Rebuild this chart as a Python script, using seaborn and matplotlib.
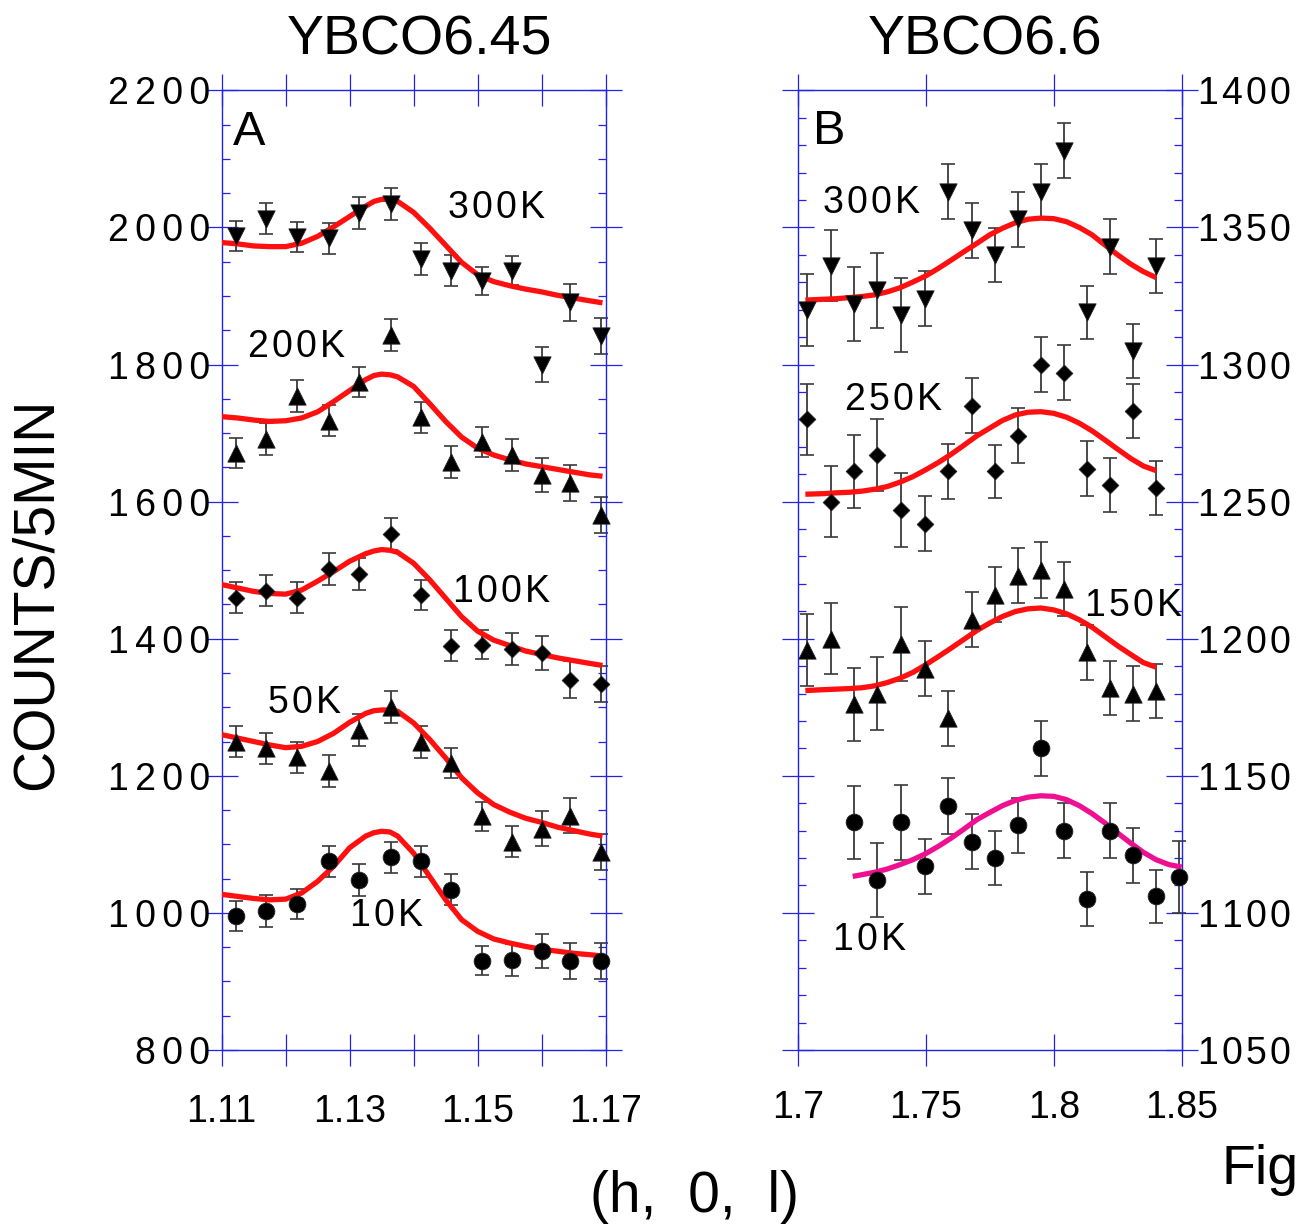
import matplotlib
matplotlib.use("Agg")
import matplotlib.pyplot as plt
from matplotlib.ticker import MultipleLocator, FixedLocator, FuncFormatter
import seaborn as sns

# ---------------- Panel A : YBCO6.45 ----------------
hA = [1.1122, 1.1170, 1.1218, 1.1267, 1.1315, 1.1364, 1.1411, 1.1459, 1.1506, 1.1553, 1.1600, 1.1645, 1.1693]
a300 = [1987, 2013, 1986, 1984, 2021, 2034, 1954, 1937, 1922, 1937, 1800, 1891, 1842]
a300_err = [22, 23, 22, 23, 23, 23, 23, 23, 21, 21, 25, 27, 26]
a200 = [1671, 1691, 1754, 1718, 1775, 1843, 1723, 1658, 1687, 1668, 1639, 1627, 1580]
a200_err = [22, 23, 23, 23, 22, 23, 23, 23, 22, 23, 25, 26, 26]
a100 = [1460, 1470, 1460, 1502, 1494, 1553, 1464, 1390, 1391, 1385, 1379, 1340, 1334]
a100_err = [23, 23, 23, 23, 23, 23, 22, 23, 21, 23, 25, 27, 26]
a50 = [1250, 1240, 1227, 1207, 1267, 1300, 1249, 1219, 1141, 1104, 1123, 1142, 1089]
a50_err = [23, 23, 23, 23, 23, 23, 23, 22, 21, 23, 25, 26, 26]
a10 = [996, 1003, 1013, 1075, 1048, 1081, 1075, 1034, 930, 931, 944, 930, 930]
a10_err = [22, 23, 22, 23, 23, 23, 23, 23, 21, 23, 25, 26, 26]

# fit curves
hA_fit = [1.1100, 1.1125, 1.1150, 1.1175, 1.1200, 1.1225, 1.1250, 1.1275, 1.1300, 1.1325,
          1.1338, 1.1350, 1.1363, 1.1375, 1.1400, 1.1425, 1.1450, 1.1475, 1.1500, 1.1525, 1.1550, 1.1575,
          1.1600, 1.1625, 1.1650, 1.1675, 1.1695]
a300_fit = [1978, 1976, 1973, 1972, 1972, 1977, 1987, 2001, 2016, 2031, 2038, 2041, 2041, 2038, 2022, 1999, 1974,
            1949, 1931, 1921, 1915, 1910, 1906, 1901, 1897, 1893, 1890]
a200_fit = [1724, 1722, 1719, 1717, 1718, 1722, 1731, 1746, 1762, 1778, 1784, 1786, 1785, 1782, 1768, 1743, 1717,
            1694, 1678, 1668, 1661, 1655, 1651, 1647, 1643, 1639, 1637]
a100_fit = [1479, 1474, 1469, 1466, 1465, 1471, 1484, 1498, 1513, 1524, 1528, 1530, 1529, 1526, 1510, 1486, 1459,
            1432, 1411, 1398, 1390, 1382, 1377, 1372, 1368, 1364, 1361]
a50_fit = [1260, 1255, 1250, 1245, 1241, 1243, 1250, 1262, 1278, 1291, 1295, 1296, 1296, 1294, 1277, 1253, 1226,
           1197, 1175, 1158, 1147, 1138, 1132, 1125, 1120, 1115, 1112]
a10_fit = [1027, 1024, 1021, 1019, 1020, 1029, 1046, 1068, 1095, 1112, 1117, 1119, 1118, 1112, 1087, 1053, 1019,
           990, 973, 962, 956, 951, 947, 944, 941, 939, 937]

# ---------------- Panel B : YBCO6.6 ----------------
hB = [1.7035, 1.7129, 1.7220, 1.7311, 1.7404, 1.7496, 1.7587, 1.7680, 1.7770, 1.7859,
      1.7950, 1.8039, 1.8131, 1.8221, 1.8310, 1.8400, 1.8490]
b300 = [1320, 1336, 1322, 1327, 1318, 1324, 1363, 1349, 1340, 1353, 1363, 1378, 1319, 1343, 1305, 1336]
b300_err = [13.1, 12.9, 13.5, 13.5, 13.5, 10.0, 10.0, 10.0, 9.8, 10.0, 10.0, 10.0, 9.8, 9.9, 9.8, 9.8]
b250 = [1280, 1250, 1261, 1267, 1247, 1242, 1261, 1285, 1261, 1274, 1300, 1297, 1262, 1256, 1283, 1255]
b250_err = [12.9, 13.0, 13.3, 13.3, 13.5, 9.9, 9.9, 10.0, 9.8, 10.0, 10.0, 10.1, 10.0, 9.8, 9.9, 9.8]
b150 = [1196, 1200, 1176, 1180, 1198, 1189, 1171, 1207, 1216, 1223, 1225, 1218, 1195, 1182, 1180, 1181]
b150_err = [13.1, 13.0, 13.4, 13.4, 13.5, 10.0, 10.1, 10.0, 10.0, 10.0, 10.1, 9.9, 9.9, 9.9, 9.9, 9.9]
b10 = [1133, 1112, 1133, 1117, 1139, 1126, 1120, 1132, 1160, 1130, 1105, 1130, 1121, 1106, 1113]
b10_err = [13.4, 13.4, 13.6, 10.0, 10.1, 10.0, 10.0, 10.0, 10.0, 10.0, 9.8, 10.0, 10.0, 9.8, 13.1]

hB_fit = [1.7030, 1.710, 1.715, 1.720, 1.725, 1.730, 1.735, 1.740, 1.745, 1.750, 1.755, 1.760, 1.765, 1.770,
          1.775, 1.780, 1.785, 1.790, 1.795, 1.800, 1.805, 1.810, 1.815, 1.820, 1.825, 1.830, 1.835, 1.840]
b300_fit = [1323.5, 1323.8, 1324.0, 1324.4, 1324.8, 1325.4, 1326.5, 1328.0, 1330.1, 1332.3, 1335.1, 1338.1,
            1341.2, 1344.2, 1347.3, 1349.7, 1351.7, 1353.0, 1353.4, 1353.2, 1352.1, 1350.0, 1347.3, 1343.6,
            1340.0, 1336.7, 1333.9, 1331.7]
b250_fit = [1252.7, 1252.9, 1253.2, 1253.4, 1253.8, 1254.5, 1255.5, 1257.1, 1259.1, 1261.6, 1264.3, 1267.3,
            1270.6, 1274.0, 1276.8, 1279.6, 1281.6, 1282.6, 1282.8, 1282.2, 1280.8, 1278.6, 1275.8, 1272.5,
            1269.1, 1265.8, 1263.0, 1261.3]
b150_fit = [1181.1, 1181.4, 1181.6, 1181.8, 1182.1, 1182.8, 1184.0, 1185.6, 1187.7, 1190.5, 1193.5, 1196.6,
            1199.8, 1203.0, 1205.7, 1208.1, 1209.9, 1210.9, 1211.2, 1210.5, 1209.1, 1206.9, 1204.2, 1200.8,
            1197.4, 1194.3, 1191.3, 1189.6]
hB10_fit = [1.7215, 1.725, 1.730, 1.735, 1.740, 1.745, 1.750, 1.755, 1.760, 1.765, 1.770, 1.775, 1.780, 1.785,
            1.790, 1.795, 1.800, 1.805, 1.810, 1.815, 1.820, 1.825, 1.830, 1.835, 1.840, 1.845, 1.850]
b10_fit = [1113.3, 1113.9, 1114.8, 1116.0, 1117.6, 1119.4, 1121.6, 1124.3, 1127.3, 1130.6, 1134.0, 1136.6,
           1139.1, 1141.0, 1142.2, 1142.7, 1142.5, 1141.3, 1139.1, 1136.2, 1132.8, 1129.1, 1125.5, 1122.1,
           1119.4, 1117.6, 1116.7]

# ---------------- styling ----------------
sns.set_style("white")
FONT = ["Liberation Sans", "DejaVu Sans"]
plt.rcParams["font.family"] = FONT
plt.rcParams["text.color"] = "black"
AXC = "#2323e6"
RED = "#ff1010"
MAG = "#ee1090"
ERRC = "#3a3a3a"
HAIR = "\u200a"


def spaced(s, sep):
    return sep.join(list(s))


fig = plt.figure(figsize=(13, 12.26), dpi=100)
axA = fig.add_axes([0.1705, 0.1436, 0.2954, 0.7827])
axB = fig.add_axes([0.6136, 0.1436, 0.2954, 0.7827])

MS = {"v": 155, "^": 155, "D": 72, "o": 145}


def draw_series(ax, x, y, err, marker):
    eb = ax.errorbar(x, y, yerr=err, fmt="none", ecolor=ERRC, elinewidth=1.3,
                     capsize=5, capthick=1.2, zorder=2)
    for art in list(eb.lines[1]) + list(eb.lines[2]):
        art.set_clip_on(False)
    sns.scatterplot(x=x, y=y, marker=marker, s=MS[marker], color="black",
                    edgecolor="#222222", linewidth=0.6, ax=ax, zorder=4, clip_on=False, legend=False)


def draw_fit(ax, x, y, color):
    sns.lineplot(x=x, y=y, ax=ax, color=color, lw=3.8, sort=False, estimator=None, zorder=3,
                 solid_joinstyle="round", solid_capstyle="butt")


# Panel A
for y, e, m in [(a300, a300_err, "v"), (a200, a200_err, "^"), (a100, a100_err, "D"),
                (a50, a50_err, "^"), (a10, a10_err, "o")]:
    draw_series(axA, hA, y, e, m)
for yf in [a300_fit, a200_fit, a100_fit, a50_fit, a10_fit]:
    draw_fit(axA, hA_fit, yf, RED)

# Panel B
draw_series(axB, hB[:16], b300, b300_err, "v")
draw_series(axB, hB[:16], b250, b250_err, "D")
draw_series(axB, hB[:16], b150, b150_err, "^")
draw_series(axB, hB[2:], b10, b10_err, "o")
draw_fit(axB, hB_fit, b300_fit, RED)
draw_fit(axB, hB_fit, b250_fit, RED)
draw_fit(axB, hB_fit, b150_fit, RED)
draw_fit(axB, hB10_fit, b10_fit, MAG)

# axes limits & ticks
axA.set_xlim(1.11, 1.17)
axA.set_ylim(800, 2200)
axB.set_xlim(1.70, 1.85)
axB.set_ylim(1050, 1400)

TL = 23  # inout major tick length (pt)
TLm = 6

axA.xaxis.set_major_locator(FixedLocator([1.11, 1.12, 1.13, 1.14, 1.15, 1.16, 1.17]))
axA.xaxis.set_major_formatter(FuncFormatter(
    lambda v, p: "%.2f" % v if round(v * 100) % 2 == 1 else ""))
axA.yaxis.set_major_locator(MultipleLocator(200))
axA.yaxis.set_minor_locator(MultipleLocator(50))
axA.yaxis.set_major_formatter(FuncFormatter(lambda v, p: spaced("%d" % v, HAIR + HAIR)))

axB.xaxis.set_major_locator(FixedLocator([1.70, 1.75, 1.80, 1.85]))
axB.xaxis.set_major_formatter(FuncFormatter(lambda v, p: "%g" % round(v, 2)))
axB.yaxis.set_major_locator(MultipleLocator(50))
axB.yaxis.set_minor_locator(MultipleLocator(10))
axB.yaxis.set_major_formatter(FuncFormatter(lambda v, p: spaced("%d" % v, HAIR)))

for ax in (axA, axB):
    ax.set_xlabel("")
    ax.set_ylabel("")
    ax.grid(False)
    for sp in ax.spines.values():
        sp.set_color(AXC)
        sp.set_linewidth(1.0)
        sp.set_visible(True)
    ax.tick_params(which="major", direction="inout", length=TL, width=0.9, color=AXC,
                   labelcolor="black", top=True, bottom=True, left=True, right=True, labelsize=27)
    ax.tick_params(which="minor", direction="in", length=TLm, width=0.9, color=AXC,
                   left=True, right=True)
    ax.tick_params(axis="x", which="major", pad=20)

axA.tick_params(axis="y", which="major", labelleft=True, labelright=False, pad=-3)
axB.tick_params(axis="y", which="major", labelleft=False, labelright=True, pad=0)
axB.tick_params(axis="x", which="major", pad=17)
for ax in (axA, axB):
    for lab in ax.get_xticklabels() + ax.get_yticklabels():
        lab.set_family(FONT)

# in-panel labels
TK = dict(fontsize=27, family=FONT, color="black", va="center", ha="left")
axA.text(1.1454, 2028, spaced("300K", HAIR), **TK)
axA.text(1.1141, 1826, spaced("200K", HAIR), **TK)
axA.text(1.1461, 1468, spaced("100K", HAIR), **TK)
axA.text(1.1172, 1306, spaced("50K", HAIR), **TK)
axA.text(1.1300, 996, spaced("10K", HAIR), **TK)
axA.text(1.1118, 2139, "A", fontsize=35, family=FONT, color="black", va="center", ha="left")

axB.text(1.7099, 1359, spaced("300K", HAIR), **TK)
axB.text(1.7185, 1287, spaced("250K", HAIR), **TK)
axB.text(1.8122, 1212, spaced("150K", HAIR), **TK)
axB.text(1.7138, 1090, spaced("10K", HAIR), **TK)
axB.text(1.7060, 1385, "B", fontsize=35, family=FONT, color="black", va="center", ha="left")

# titles & axis labels
fig.text(0.323, 0.967, "YBCO6.45", fontsize=40, family=FONT, color="black", ha="center", va="center")
fig.text(0.758, 0.967, "YBCO6.6", fontsize=40, family=FONT, color="black", ha="center", va="center")
fig.text(0.0285, 0.5155, "COUNTS/5MIN", fontsize=41, family=FONT, color="black", rotation=90,
         ha="center", va="center")
fig.text(0.534, 0.0235, "(h,  0,  l)", fontsize=41, family=FONT, color="black", ha="center", va="center")
fig.text(0.9395, 0.046, "Fig", fontsize=40, family=FONT, color="black", ha="left", va="center")

fig.savefig("out.png", dpi=100)
